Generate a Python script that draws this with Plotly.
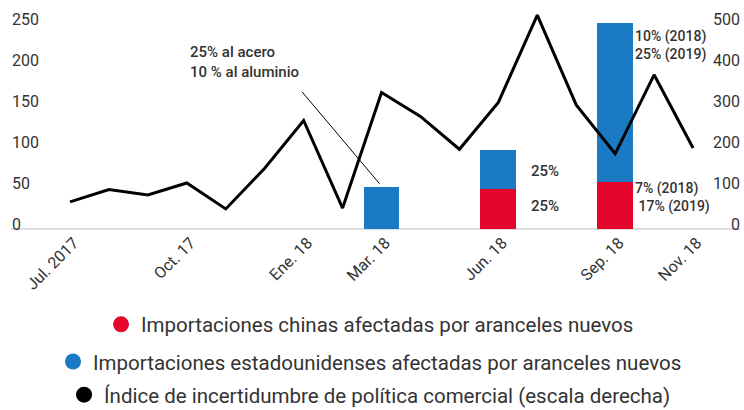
import plotly.graph_objects as go

# Monthly categories, Jul 2017 - Nov 2018
months = ["Jul. 2017", "Ago. 17", "Sep. 17", "Oct. 17", "Nov. 17", "Dic. 17",
          "Ene. 18", "Feb. 18", "Mar. 18", "Abr. 18", "May. 18", "Jun. 18",
          "Jul. 18", "Ago. 18", "Sep. 18", "Oct. 18", "Nov. 18"]
tick_months = ["Jul. 2017", "Oct. 17", "Ene. 18", "Mar. 18", "Jun. 18", "Sep. 18", "Nov. 18"]

# Trade policy uncertainty index (right scale)
uncertainty = [65, 95, 82, 111, 48, 147, 263, 50, 331, 273, 193, 307, 519, 301, 182, 374, 196]

# Imports affected by new tariffs (left scale)
bar_months = ["Mar. 18", "Jun. 18", "Sep. 18"]
china_imports = [0, 48, 57]
us_imports = [51, 48, 193]

# Tariff rate notes next to the bars
usa_notes = [[], ["25%"], ["10% (2018)", "25% (2019)"]]
china_notes = [[], ["25%"], ["7% (2018)", " 17% (2019)"]]

names = ["Importaciones chinas afectadas por aranceles nuevos",
         "Importaciones estadounidenses afectadas por aranceles nuevos",
         "Índice de incertidumbre de política comercial (escala derecha)"]

RED = "#E5062D"
BLUE = "#1B7AC4"
TXT = "#333333"
FONT = "Roboto"

fig = go.Figure()

fig.add_trace(go.Bar(x=bar_months, y=china_imports, marker=dict(color=RED, line=dict(width=0)),
                     width=0.92, showlegend=False, hoverinfo="skip"))
fig.add_trace(go.Bar(x=bar_months, y=us_imports, marker=dict(color=BLUE, line=dict(width=0)),
                     width=0.92, showlegend=False, hoverinfo="skip"))
fig.add_trace(go.Scatter(x=months, y=uncertainty, yaxis="y2", mode="lines",
                         line=dict(color="black", width=3), showlegend=False))

# Round legend keys, one centred legend per series
for name, col, lg, ax in [(names[0], RED, "legend", "y"),
                          (names[1], BLUE, "legend2", "y"),
                          (names[2], "black", "legend3", "y2")]:
    fig.add_trace(go.Scatter(x=[None], y=[None], yaxis=ax, mode="markers",
                             marker=dict(color=col, size=22, symbol="circle"),
                             name=name, legend=lg, showlegend=True))

legend_common = dict(font=dict(family=FONT, size=20.5, color=TXT), bgcolor="rgba(0,0,0,0)",
                     xanchor="center", yanchor="middle", x=0.4925, itemsizing="trace")

note_font = dict(family=FONT, size=15, color=TXT, weight=500)
small_note_font = dict(family=FONT, size=14, color=TXT, weight=500)
annotations = []
for m, c_note, u_note, c_val, u_val in zip(bar_months, china_notes, usa_notes, china_imports, us_imports):
    if len(u_note) == 1:
        annotations.append(dict(x=m, y=c_val + u_val / 2, text=u_note[0], yanchor="middle",
                                xshift=31, yshift=-2, font=note_font))
    elif u_note:
        annotations.append(dict(x=m, y=c_val + u_val, text="<br>".join(u_note), yanchor="middle",
                                xshift=18, yshift=-22.5, font=small_note_font))
    if len(c_note) == 1:
        annotations.append(dict(x=m, y=c_val / 2, text=c_note[0], yanchor="middle",
                                xshift=31, yshift=3, font=note_font))
    elif c_note:
        annotations.append(dict(x=m, y=c_val, text="<br>".join(c_note), yanchor="middle",
                                xshift=18, yshift=-15.5, font=small_note_font))
for a in annotations:
    a.update(xref="x", yref="y", showarrow=False, xanchor="left", align="left")

annotations.append(dict(x=0.2428, y=0.775, xref="paper", yref="paper",
                        text="25% al acero<br>10 % al aluminio", showarrow=False,
                        xanchor="left", yanchor="middle", align="left", font=note_font))

fig.update_layout(
    width=744, height=410,
    margin=dict(l=11, r=4, t=10, b=168.6, autoexpand=False),
    paper_bgcolor="white", plot_bgcolor="white",
    barmode="stack",
    font=dict(family=FONT, color=TXT),
    xaxis=dict(type="category", categoryorder="array", categoryarray=months,
               range=[-1.515, 17.206], anchor="free", position=0.0496,
               tickmode="array", tickvals=tick_months, ticktext=tick_months,
               tickangle=-45, ticks="", ticklabelshift=4,
               showgrid=False, zeroline=False, showline=False,
               tickfont=dict(family=FONT, size=16, color=TXT)),
    yaxis=dict(range=[-15, 265.8], tickvals=[0, 50, 100, 150, 200, 250],
               anchor="free", position=0, side="right", showgrid=False,
               zeroline=True, zerolinecolor="#DDDDDD", zerolinewidth=2, ticks="",
               showline=False, ticklabelshift=-4,
               tickfont=dict(family=FONT, size=16, color=TXT)),
    yaxis2=dict(overlaying="y", anchor="free", position=1, side="left",
                range=[-30, 531.6], tickvals=[0, 100, 200, 300, 400, 500],
                showgrid=False, zeroline=False, ticks="", showline=False,
                ticklabelshift=-4, tickfont=dict(family=FONT, size=16, color=TXT)),
    legend=dict(y=-0.3613, **legend_common),
    legend2=dict(y=-0.5225, **legend_common),
    legend3=dict(y=-0.6660, **legend_common),
    annotations=annotations,
    shapes=[dict(type="line", xref="x", yref="y", x0=5.96, y0=166.3, x1=7.95, y1=54.6,
                 line=dict(color="black", width=1))],
)

fig.write_html("out.html")
